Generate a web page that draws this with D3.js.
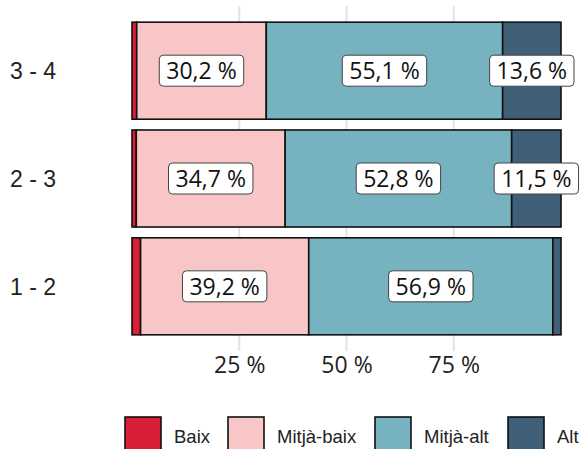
<!DOCTYPE html>
<html>
<head>
<meta charset="utf-8">
<script src="https://cdn.jsdelivr.net/npm/d3@7"></script>
<style>
  body { margin: 0; background: #fff; }
</style>
</head>
<body>
<div id="canvas"></div>
<script>
// data
const categories = ['3 - 4', '2 - 3', '1 - 2'];
const series = ['Baix', 'Mitjà-baix', 'Mitjà-alt', 'Alt'];
const baix = [1.1, 1.0, 2.0];
const mitjaBaix = [30.2, 34.7, 39.2];
const mitjaAlt = [55.1, 52.8, 56.9];
const alt = [13.6, 11.5, 1.9];
const xTicks = [25, 50, 75];
const colors = ['#d91e36', '#f8c6c6', '#76b2bf', '#3f6078'];

// constants
const width = 583;
const height = 449;
const panelTop = 6;
const panelBottom = 351;
const panelLeft = 132;
const panelRight = 561;

const rows = categories.map((c, i) => ({
  cat: c,
  'Baix': baix[i],
  'Mitjà-baix': mitjaBaix[i],
  'Mitjà-alt': mitjaAlt[i],
  'Alt': alt[i]
}));

const stack = d3.stack().keys(series)(rows);

// scales
const x = d3.scaleLinear().domain([0, 100]).range([panelLeft, panelRight]);
const y = d3.scaleBand()
  .domain(categories)
  .range([panelTop, panelBottom])
  .paddingInner(0.1)
  .paddingOuter(0.15);
const color = d3.scaleOrdinal().domain(series).range(colors);

const svg = d3.select('#canvas')
  .append('svg').attr('width', width).attr('height', height);

// grid lines
svg.append('g')
  .selectAll('line')
  .data(xTicks)
  .join('line')
  .attr('x1', d => x(d)).attr('x2', d => x(d))
  .attr('y1', panelTop).attr('y2', panelBottom)
  .attr('stroke', '#e3e3e3')
  .attr('stroke-width', 2);

// x axis
const xAxis = d3.axisBottom(x)
  .tickValues(xTicks)
  .tickSize(0)
  .tickPadding(6)
  .tickFormat(d => d + ' %');
svg.append('g')
  .attr('class', 'x-axis')
  .attr('transform', `translate(0,${panelBottom})`)
  .call(xAxis)
  .call(g => g.select('.domain').remove())
  .selectAll('text')
  .attr('font-family', 'Open Sans')
  .attr('font-size', 23)
  .attr('fill', '#222');

// y labels
svg.append('g')
  .selectAll('text')
  .data(categories)
  .join('text')
  .attr('x', 10)
  .attr('y', d => y(d) + y.bandwidth() / 2)
  .attr('dy', '0.36em')
  .attr('font-family', 'Liberation Sans')
  .attr('font-size', 23)
  .attr('fill', '#222')
  .text(d => d);

// bars
svg.append('g')
  .selectAll('g')
  .data(stack)
  .join('g')
  .attr('fill', d => color(d.key))
  .selectAll('rect')
  .data(d => d)
  .join('rect')
  .attr('x', d => x(d[0]))
  .attr('width', d => x(d[1]) - x(d[0]))
  .attr('y', d => y(d.data.cat))
  .attr('height', y.bandwidth())
  .attr('stroke', '#111')
  .attr('stroke-width', 1.6);

// value labels
const labels = [];
stack.forEach(s => s.forEach(d => {
  const v = d[1] - d[0];
  if (v >= 5) labels.push({ v, cx: x((d[0] + d[1]) / 2), cy: y(d.data.cat) + y.bandwidth() / 2 });
}));

const lab = svg.append('g')
  .selectAll('g')
  .data(labels)
  .join('g')
  .attr('transform', d => `translate(${d.cx},${d.cy})`);

lab.append('text')
  .attr('text-anchor', 'middle')
  .attr('dy', '0.36em')
  .attr('font-family', 'Open Sans')
  .attr('font-size', 23)
  .attr('fill', '#111')
  .text(d => d3.format('.1f')(d.v).replace('.', ',') + ' %');

lab.each(function () {
  const g = d3.select(this);
  const bb = g.select('text').node().getBBox();
  g.insert('rect', 'text')
    .attr('x', bb.x - 7)
    .attr('y', -15.5)
    .attr('width', bb.width + 14)
    .attr('height', 31)
    .attr('rx', 4)
    .attr('fill', '#fff')
    .attr('stroke', '#444')
    .attr('stroke-width', 1);
});

// legend
const legendX = [125, 228, 375, 508];
const leg = svg.append('g')
  .selectAll('g')
  .data(series)
  .join('g')
  .attr('transform', (d, i) => `translate(${legendX[i]},417)`);
leg.append('rect')
  .attr('width', 36)
  .attr('height', 36)
  .attr('fill', d => color(d))
  .attr('stroke', '#111')
  .attr('stroke-width', 1.6);
leg.append('text')
  .attr('x', 49)
  .attr('y', 19)
  .attr('dy', '0.36em')
  .attr('font-family', 'Liberation Sans')
  .attr('font-size', 18.5)
  .attr('fill', '#222')
  .text(d => d);
</script>
</body>
</html>
